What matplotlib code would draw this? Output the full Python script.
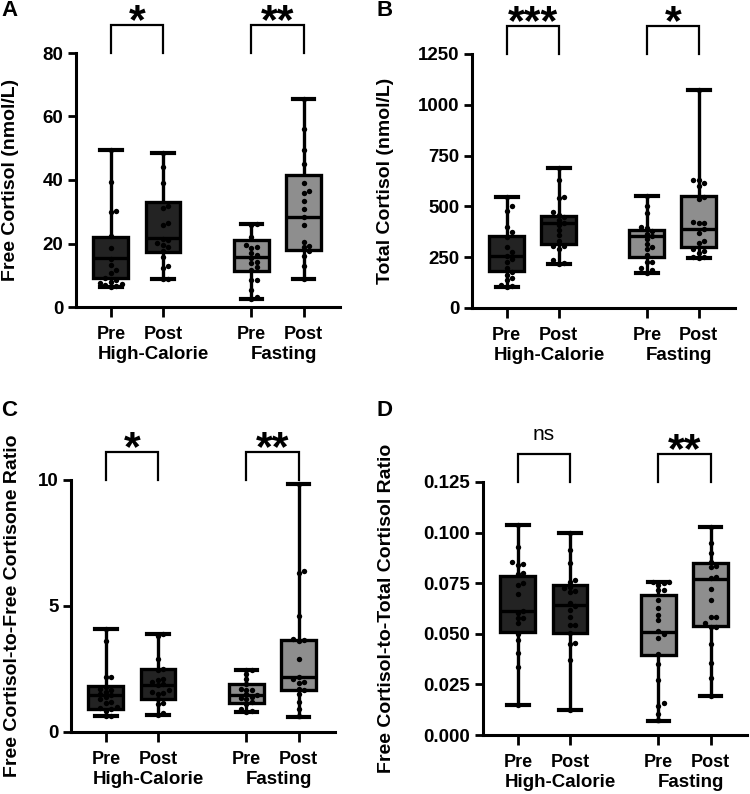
import numpy as np
import matplotlib
matplotlib.use('Agg')
import matplotlib.pyplot as plt
from matplotlib.transforms import blended_transform_factory

plt.rcParams['font.family'] = ['Liberation Sans', 'DejaVu Sans']
plt.rcParams['font.weight'] = 'bold'

# ---------------- data ----------------
conditions = ['Pre', 'Post', 'Pre', 'Post']
groups = ['High-Calorie', 'Fasting']

# Panel A: Free cortisol (nmol/L)
a_hc_pre = [49.5, 39.5, 30.2, 29.8, 22.5, 18.5, 15.0, 13.2, 11.6, 10.7, 9.0, 8.5, 7.8, 7.5, 7.2, 6.8, 6.5, 6.3]
a_hc_post = [48.5, 44.0, 39.0, 31.8, 31.2, 26.4, 25.8, 21.5, 21.0, 20.2, 19.6, 18.8, 17.5, 15.9, 12.8, 12.2, 8.7, 8.7]
a_f_pre = [26.1, 25.8, 22.2, 19.5, 19.0, 18.5, 17.0, 16.4, 15.5, 14.2, 13.9, 12.7, 11.5, 8.6, 8.4, 5.5, 3.3, 2.5]
a_f_post = [65.5, 56.0, 49.5, 45.0, 39.2, 36.5, 36.0, 33.5, 30.8, 28.4, 25.8, 20.6, 19.2, 18.8, 17.5, 16.1, 12.9, 8.7]
# box stats: min, q1, median, q3, max
a_stats = [[6.3, 9.1, 15.4, 22.0, 49.5],
           [8.7, 17.3, 21.6, 33.2, 48.5],
           [2.5, 11.4, 15.8, 21.1, 26.1],
           [8.7, 17.8, 28.4, 41.6, 65.5]]

# Panel B: Total cortisol (nmol/L)
b_hc_pre = [545, 500, 478, 397, 372, 350, 300, 277, 255, 240, 228, 195, 179, 162, 150, 138, 115, 108, 105]
b_hc_post = [687, 630, 548, 540, 470, 460, 450, 433, 420, 410, 384, 359, 330, 307, 305, 290, 235, 220, 217]
b_f_pre = [553, 500, 466, 400, 395, 378, 365, 355, 340, 315, 302, 290, 260, 228, 225, 195, 185, 174]
b_f_post = [1072, 632, 628, 615, 600, 545, 535, 425, 420, 418, 387, 371, 330, 322, 290, 280, 270, 252, 250, 245]
b_stats = [[105, 184, 257, 356, 545],
           [217, 315, 420, 453, 687],
           [174, 252, 354, 384, 553],
           [245, 299, 387, 551, 1072]]

# Panel C: Free cortisol-to-free cortisone ratio
c_hc_pre = [4.1, 3.6, 2.2, 2.2, 1.8, 1.7, 1.65, 1.6, 1.5, 1.45, 1.4, 1.3, 1.2, 1.15, 1.0, 0.95, 0.9, 0.85, 0.65, 0.63]
c_hc_post = [3.87, 3.8, 2.9, 2.5, 2.45, 2.1, 2.05, 2.0, 1.9, 1.85, 1.65, 1.6, 1.55, 1.5, 1.3, 1.15, 1.1, 0.75, 0.67]
c_f_pre = [2.48, 2.45, 2.3, 2.1, 1.9, 1.7, 1.68, 1.65, 1.5, 1.45, 1.38, 1.35, 1.3, 1.2, 1.1, 0.9, 0.85, 0.81]
c_f_post = [9.85, 6.4, 6.3, 4.6, 3.7, 3.65, 3.6, 2.9, 2.2, 2.1, 2.0, 1.95, 1.7, 1.65, 1.5, 1.2, 0.9, 0.62]
c_stats = [[0.63, 0.92, 1.45, 1.83, 4.1],
           [0.67, 1.30, 1.87, 2.49, 3.87],
           [0.81, 1.16, 1.47, 1.90, 2.48],
           [0.61, 1.67, 2.17, 3.65, 9.86]]

# Panel D: Free cortisol-to-total cortisol ratio
d_hc_pre = [0.104, 0.093, 0.0855, 0.0845, 0.084, 0.080, 0.0795, 0.075, 0.074, 0.0698, 0.0615, 0.0605,
            0.0578, 0.0576, 0.0552, 0.050, 0.047, 0.0405, 0.0338, 0.015]
d_hc_post = [0.100, 0.0915, 0.085, 0.0765, 0.0757, 0.0733, 0.0725, 0.071, 0.0705, 0.065, 0.0635, 0.0618,
             0.0585, 0.0545, 0.0542, 0.0505, 0.0455, 0.0452, 0.037, 0.0125]
d_f_pre = [0.0757, 0.0755, 0.0752, 0.074, 0.0718, 0.0714, 0.0667, 0.0626, 0.0593, 0.0568, 0.0515, 0.050,
           0.0478, 0.040, 0.035, 0.027, 0.0157, 0.0145, 0.0105, 0.0072]
d_f_post = [0.103, 0.095, 0.0898, 0.0855, 0.0835, 0.083, 0.078, 0.0774, 0.0721, 0.0667, 0.0585, 0.0583,
            0.0555, 0.0535, 0.0535, 0.045, 0.0354, 0.028, 0.0193]
d_stats = [[0.0148, 0.051, 0.0613, 0.0785, 0.1036],
           [0.0124, 0.0505, 0.064, 0.074, 0.0998],
           [0.007, 0.0395, 0.051, 0.069, 0.0755],
           [0.0193, 0.054, 0.077, 0.0852, 0.1029]]

sig_a = ['*', '**']
sig_b = ['***', '*']
sig_c = ['*', '**']
sig_d = ['ns', '**']

# ---------------- style / layout ----------------
W, H = 750, 794
fig = plt.figure(figsize=(W / 100, H / 100), dpi=100)

positions = [0, 1, 2.7, 3.7]
box_colors = ['#232323', '#232323', '#8e8e8e', '#8e8e8e']
LW = 2.4


def swarm_offsets(vals, ax_h_px, yrange, px_per_x, d_px=5.0):
    vals = np.asarray(vals, float)
    ypx = vals / (yrange[1] - yrange[0]) * ax_h_px
    order = np.argsort(ypx)
    placed = []
    offs = np.zeros(len(vals))
    for i in order:
        y = ypx[i]
        for k in [0, 1, -1, 2, -2, 3, -3]:
            x = k * d_px * 1.1
            ok = True
            for (px, py) in placed:
                if (px - x) ** 2 + (py - y) ** 2 < (d_px * 0.9) ** 2:
                    ok = False
                    break
            if ok:
                break
        placed.append((x, y))
        offs[i] = x / px_per_x
    return offs


def panel(rect, letter, letter_xy, data, stats, ylim, yticks, yticklabels, ylabel, sigs, ylabel_pad):
    ax = fig.add_axes(rect)
    bxp_stats = []
    for s in stats:
        bxp_stats.append(dict(whislo=s[0], q1=s[1], med=s[2], q3=s[3], whishi=s[4], fliers=[]))
    art = ax.bxp(bxp_stats, positions=positions, widths=0.67, patch_artist=True, showfliers=False,
                 capwidths=0.42,
                 boxprops=dict(edgecolor='black', linewidth=LW),
                 whiskerprops=dict(color='black', linewidth=LW),
                 capprops=dict(color='black', linewidth=LW + 0.6),
                 medianprops=dict(color='black', linewidth=LW))
    for patch, c in zip(art['boxes'], box_colors):
        patch.set_facecolor(c)
        patch.set_zorder(2)
    for key in ['whiskers', 'caps']:
        for l in art[key]:
            l.set_zorder(1.5)
    for l in art['medians']:
        l.set_zorder(3)

    ax_h_px = rect[3] * H
    px_per_x = rect[2] * W / (4.4 + 0.67)
    for pos, vals in zip(positions, data):
        offs = swarm_offsets(vals, ax_h_px, ylim, px_per_x)
        ax.scatter(np.full(len(vals), pos) + offs, vals, s=15, color='black', zorder=4, linewidths=0)

    ax.set_xlim(-0.67, 4.4)
    ax.set_ylim(*ylim)
    ax.set_yticks(yticks)
    ax.set_yticklabels(yticklabels, fontsize=13.5, fontweight='bold')
    ax.set_xticks(positions)
    ax.set_xticklabels(conditions, fontsize=13, fontweight='bold')
    for s in ['top', 'right']:
        ax.spines[s].set_visible(False)
    for s in ['left', 'bottom']:
        ax.spines[s].set_linewidth(2.2)
        ax.spines[s].set_capstyle('projecting')
    ax.tick_params(axis='both', width=2.0, length=6, pad=3)
    ax.tick_params(axis='x', length=7, pad=7)
    ax.set_ylabel(ylabel, fontsize=14, fontweight='bold', labelpad=ylabel_pad)

    tr = blended_transform_factory(ax.transData, ax.transAxes)
    # group labels
    ax.text(0.82, -0.155, groups[0], transform=tr, ha='center', va='top', fontsize=13.5, fontweight='bold')
    ax.text(3.32, -0.155, groups[1], transform=tr, ha='center', va='top', fontsize=13.5, fontweight='bold')
    # significance brackets
    for (x0, x1), sig in zip([(positions[0], positions[1]), (positions[2], positions[3])], sigs):
        ax.plot([x0, x0, x1, x1], [1.0, 1.11, 1.11, 1.0], transform=tr, color='black', lw=1.6,
                clip_on=False, solid_joinstyle='miter')
        if sig == 'ns':
            ax.text((x0 + x1) / 2, 1.15, sig, transform=tr, ha='center', va='bottom',
                    fontsize=15, fontweight='normal')
        else:
            ax.text((x0 + x1) / 2, 1.08, sig, transform=tr, ha='center', va='baseline',
                    fontsize=31, fontweight='bold')
    fig.text(letter_xy[0] / W, 1 - letter_xy[1] / H, letter, fontsize=16, fontweight='bold',
             ha='left', va='top')
    return ax


panel([76 / W, 1 - 307 / H, 264 / W, 254 / H], 'A', (1, 0),
      [a_hc_pre, a_hc_post, a_f_pre, a_f_post], a_stats,
      (0, 80), [0, 20, 40, 60, 80], ['0', '20', '40', '60', '80'],
      'Free Cortisol (nmol/L)', sig_a, 17)
panel([472 / W, 1 - 308 / H, 263 / W, 254 / H], 'B', (376, 0),
      [b_hc_pre, b_hc_post, b_f_pre, b_f_post], b_stats,
      (0, 1250), [0, 250, 500, 750, 1000, 1250], ['0', '250', '500', '750', '1000', '1250'],
      'Total Cortisol (nmol/L)', sig_b, 17)
panel([71 / W, 1 - 732 / H, 264 / W, 252 / H], 'C', (1, 400),
      [c_hc_pre, c_hc_post, c_f_pre, c_f_post], c_stats,
      (0, 10), [0, 5, 10], ['0', '5', '10'],
      'Free Cortisol-to-Free Cortisone Ratio', sig_c, 12)
panel([483 / W, 1 - 735 / H, 264 / W, 253 / H], 'D', (376, 400),
      [d_hc_pre, d_hc_post, d_f_pre, d_f_post], d_stats,
      (0, 0.125), [0, 0.025, 0.05, 0.075, 0.1, 0.125],
      ['0.000', '0.025', '0.050', '0.075', '0.100', '0.125'],
      'Free Cortisol-to-Total Cortisol Ratio', sig_d, 21)

fig.savefig('out.png', dpi=100)
